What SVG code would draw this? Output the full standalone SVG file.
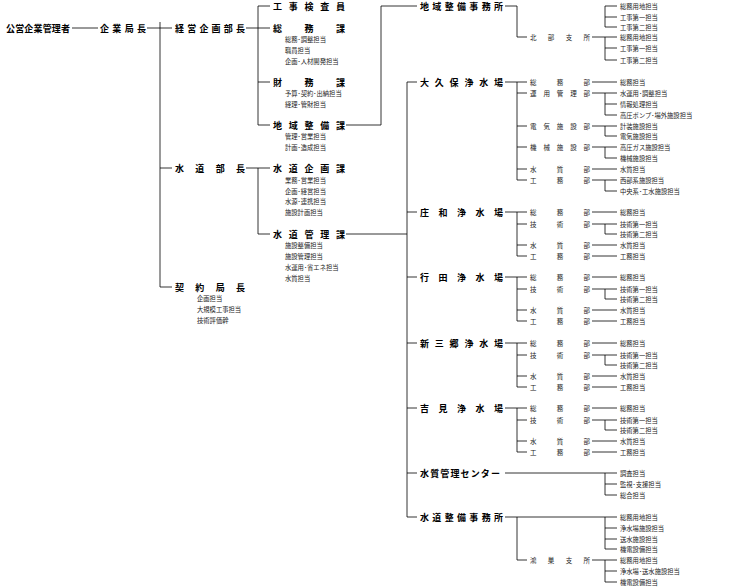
<svg xmlns="http://www.w3.org/2000/svg" width="740" height="588" viewBox="0 0 740 588">
<style>
text{font-family:"Noto Sans CJK JP","Noto Sans",sans-serif;dominant-baseline:central;fill:#000}
.h{font-size:9px;font-weight:bold}
.i{font-size:6.3px;fill:#222}
.d{font-size:6.5px;fill:#222}
line,polyline{stroke:#000;stroke-width:0.8;fill:none}
</style>
<rect width="740" height="588" fill="#fff"/>
<g id="connectors">
<line x1="72" y1="28" x2="98" y2="28"/>
<line x1="147" y1="28" x2="172" y2="28"/>
<line x1="160" y1="22" x2="160" y2="287"/>
<line x1="160" y1="168" x2="172" y2="168"/>
<line x1="160" y1="287" x2="172" y2="287"/>
<line x1="246" y1="28" x2="270" y2="28"/>
<line x1="258" y1="6" x2="258" y2="125"/>
<line x1="258" y1="6" x2="270" y2="6"/>
<line x1="258" y1="82" x2="270" y2="82"/>
<line x1="258" y1="125" x2="270" y2="125"/>
<polyline points="346,125 381,125 381,6 417,6"/>
<line x1="246" y1="168" x2="270" y2="168"/>
<line x1="258" y1="168" x2="258" y2="234"/>
<line x1="258" y1="234" x2="270" y2="234"/>
<line x1="346" y1="234" x2="407" y2="234"/>
<line x1="407" y1="82" x2="407" y2="517"/>
<line x1="407" y1="82" x2="417" y2="82"/>
<line x1="407" y1="212" x2="417" y2="212"/>
<line x1="407" y1="277" x2="417" y2="277"/>
<line x1="407" y1="343" x2="417" y2="343"/>
<line x1="407" y1="408" x2="417" y2="408"/>
<line x1="407" y1="473" x2="417" y2="473"/>
<line x1="407" y1="517" x2="417" y2="517"/>
<!-- 地域整備事務所 -->
<polyline points="505,6 517,6 517,37 527,37"/>
<line x1="605" y1="6" x2="605" y2="27"/>
<line x1="605" y1="6" x2="617" y2="6"/>
<line x1="605" y1="17" x2="617" y2="17"/>
<line x1="605" y1="27" x2="617" y2="27"/>
<line x1="592" y1="37" x2="605" y2="37"/>
<line x1="605" y1="37" x2="605" y2="60"/>
<line x1="605" y1="37" x2="617" y2="37"/>
<line x1="605" y1="48" x2="617" y2="48"/>
<line x1="605" y1="60" x2="617" y2="60"/>
<!-- 大久保 -->
<line x1="505" y1="82" x2="517" y2="82"/>
<line x1="517" y1="82" x2="517" y2="180"/>
<line x1="517" y1="82" x2="527" y2="82"/>
<line x1="517" y1="93" x2="527" y2="93"/>
<line x1="517" y1="126" x2="527" y2="126"/>
<line x1="517" y1="147" x2="527" y2="147"/>
<line x1="517" y1="169" x2="527" y2="169"/>
<line x1="517" y1="180" x2="527" y2="180"/>
<line x1="592" y1="82" x2="617" y2="82"/>
<line x1="592" y1="93" x2="605" y2="93"/>
<line x1="605" y1="93" x2="605" y2="115"/>
<line x1="605" y1="93" x2="617" y2="93"/>
<line x1="605" y1="104" x2="617" y2="104"/>
<line x1="605" y1="115" x2="617" y2="115"/>
<line x1="592" y1="126" x2="605" y2="126"/>
<line x1="605" y1="126" x2="605" y2="136"/>
<line x1="605" y1="126" x2="617" y2="126"/>
<line x1="605" y1="136" x2="617" y2="136"/>
<line x1="592" y1="147" x2="605" y2="147"/>
<line x1="605" y1="147" x2="605" y2="158"/>
<line x1="605" y1="147" x2="617" y2="147"/>
<line x1="605" y1="158" x2="617" y2="158"/>
<line x1="592" y1="169" x2="617" y2="169"/>
<line x1="592" y1="180" x2="605" y2="180"/>
<line x1="605" y1="180" x2="605" y2="191"/>
<line x1="605" y1="180" x2="617" y2="180"/>
<line x1="605" y1="191" x2="617" y2="191"/>
<!-- 水質管理センター -->
<line x1="505" y1="473" x2="605" y2="473"/>
<line x1="605" y1="473" x2="605" y2="495"/>
<line x1="605" y1="473" x2="617" y2="473"/>
<line x1="605" y1="484" x2="617" y2="484"/>
<line x1="605" y1="495" x2="617" y2="495"/>
<!-- 水道整備事務所 -->
<line x1="505" y1="517" x2="605" y2="517"/>
<polyline points="517,517 517,560 527,560"/>
<line x1="605" y1="517" x2="605" y2="549"/>
<line x1="605" y1="517" x2="617" y2="517"/>
<line x1="605" y1="528" x2="617" y2="528"/>
<line x1="605" y1="539" x2="617" y2="539"/>
<line x1="605" y1="549" x2="617" y2="549"/>
<line x1="592" y1="560" x2="605" y2="560"/>
<line x1="605" y1="560" x2="605" y2="582"/>
<line x1="605" y1="560" x2="617" y2="560"/>
<line x1="605" y1="571" x2="617" y2="571"/>
<line x1="605" y1="582" x2="617" y2="582"/>
</g>
<defs>
<g id="plantlines">
<line x1="505" y1="0" x2="517" y2="0"/>
<line x1="517" y1="0" x2="517" y2="44"/>
<line x1="517" y1="0" x2="527" y2="0"/>
<line x1="517" y1="12" x2="527" y2="12"/>
<line x1="517" y1="33" x2="527" y2="33"/>
<line x1="517" y1="44" x2="527" y2="44"/>
<line x1="592" y1="0" x2="617" y2="0"/>
<line x1="592" y1="12" x2="605" y2="12"/>
<line x1="605" y1="12" x2="605" y2="22"/>
<line x1="605" y1="12" x2="617" y2="12"/>
<line x1="605" y1="22" x2="617" y2="22"/>
<line x1="592" y1="33" x2="617" y2="33"/>
<line x1="592" y1="44" x2="617" y2="44"/>
</g>
<g id="planttext">
<text class="d" x="530" y="0" textLength="60">総務部</text>
<text class="d" x="530" y="12" textLength="60">技術部</text>
<text class="d" x="530" y="33" textLength="60">水質部</text>
<text class="d" x="530" y="44" textLength="60">工務部</text>
<text class="i" x="620" y="0">総務担当</text>
<text class="i" x="620" y="12">技術第一担当</text>
<text class="i" x="620" y="22">技術第二担当</text>
<text class="i" x="620" y="33">水質担当</text>
<text class="i" x="620" y="44">工務担当</text>
</g>
</defs>
<g id="top">
<text class="h" x="6" y="28" textLength="64">公営企業管理者</text>
<text class="h" x="100" y="28" textLength="46">企業局長</text>
</g>
<g id="keiei">
<text class="h" x="175" y="28" textLength="70">経営企画部長</text>
<text class="h" x="273" y="6" textLength="72">工事検査員</text>
<text class="h" x="273" y="28" textLength="72">総務課</text>
<text class="i" x="285" y="39">総務･調整担当</text>
<text class="i" x="285" y="50">職員担当</text>
<text class="i" x="285" y="61">企画･人材開発担当</text>
<text class="h" x="273" y="82" textLength="72">財務課</text>
<text class="i" x="285" y="93">予算･契約･出納担当</text>
<text class="i" x="285" y="104">経理･管財担当</text>
<text class="h" x="273" y="125" textLength="72">地域整備課</text>
<text class="i" x="285" y="136">管理･営業担当</text>
<text class="i" x="285" y="147">計画･造成担当</text>
</g>
<g id="suido">
<text class="h" x="175" y="168" textLength="70">水道部長</text>
<text class="h" x="273" y="168" textLength="72">水道企画課</text>
<text class="i" x="285" y="180">業務･営業担当</text>
<text class="i" x="285" y="191">企画･経営担当</text>
<text class="i" x="285" y="201">水源･連携担当</text>
<text class="i" x="285" y="212">施設計画担当</text>
<text class="h" x="273" y="234" textLength="72">水道管理課</text>
<text class="i" x="285" y="245">施設整備担当</text>
<text class="i" x="285" y="256">施設管理担当</text>
<text class="i" x="285" y="267">水運用･省エネ担当</text>
<text class="i" x="285" y="278">水質担当</text>
</g>
<g id="keiyaku">
<text class="h" x="175" y="287" textLength="70">契約局長</text>
<text class="i" x="197" y="298">企画担当</text>
<text class="i" x="197" y="309">大規模工事担当</text>
<text class="i" x="197" y="320">技術評価幹</text>
</g>
<g id="chiiki-jimusho">
<text class="h" x="420" y="6" textLength="83">地域整備事務所</text>
<text class="i" x="620" y="6">総務用地担当</text>
<text class="i" x="620" y="17">工事第一担当</text>
<text class="i" x="620" y="27">工事第二担当</text>
<text class="d" x="530" y="37" textLength="60">北部支所</text>
<text class="i" x="620" y="37">総務用地担当</text>
<text class="i" x="620" y="48">工事第一担当</text>
<text class="i" x="620" y="60">工事第二担当</text>
</g>
<g id="okubo">
<text class="h" x="420" y="82" textLength="83">大久保浄水場</text>
<text class="d" x="530" y="82" textLength="60">総務部</text>
<text class="d" x="530" y="93" textLength="60">運用管理部</text>
<text class="d" x="530" y="126" textLength="60">電気施設部</text>
<text class="d" x="530" y="147" textLength="60">機械施設部</text>
<text class="d" x="530" y="169" textLength="60">水質部</text>
<text class="d" x="530" y="180" textLength="60">工務部</text>
<text class="i" x="620" y="82">総務担当</text>
<text class="i" x="620" y="93">水運用･調整担当</text>
<text class="i" x="620" y="104">情報処理担当</text>
<text class="i" x="620" y="115">高圧ポンプ･場外施設担当</text>
<text class="i" x="620" y="126">計装施設担当</text>
<text class="i" x="620" y="136">電気施設担当</text>
<text class="i" x="620" y="147">高圧ガス施設担当</text>
<text class="i" x="620" y="158">機械施設担当</text>
<text class="i" x="620" y="169">水質担当</text>
<text class="i" x="620" y="180">西部系施設担当</text>
<text class="i" x="620" y="191">中央系･工水施設担当</text>
</g>
<g id="showa" transform="translate(0,212)">
<text class="h" x="420" y="0" textLength="83">庄和浄水場</text>
<use href="#plantlines"/><use href="#planttext"/>
</g>
<g id="gyoda" transform="translate(0,277)">
<text class="h" x="420" y="0" textLength="83">行田浄水場</text>
<use href="#plantlines"/><use href="#planttext"/>
</g>
<g id="shinmisato" transform="translate(0,343)">
<text class="h" x="420" y="0" textLength="83">新三郷浄水場</text>
<use href="#plantlines"/><use href="#planttext"/>
</g>
<g id="yoshimi" transform="translate(0,408)">
<text class="h" x="420" y="0" textLength="83">吉見浄水場</text>
<use href="#plantlines"/><use href="#planttext"/>
</g>
<g id="suishitsu-center">
<text class="h" x="420" y="473" textLength="80">水質管理センター</text>
<text class="i" x="620" y="473">調査担当</text>
<text class="i" x="620" y="484">監視･支援担当</text>
<text class="i" x="620" y="495">総合担当</text>
</g>
<g id="suido-jimusho">
<text class="h" x="420" y="517" textLength="83">水道整備事務所</text>
<text class="i" x="620" y="517">総務用地担当</text>
<text class="i" x="620" y="528">浄水場施設担当</text>
<text class="i" x="620" y="539">送水施設担当</text>
<text class="i" x="620" y="549">機電設備担当</text>
<text class="d" x="530" y="560" textLength="60">鴻巣支所</text>
<text class="i" x="620" y="560">総務用地担当</text>
<text class="i" x="620" y="571">浄水場･送水施設担当</text>
<text class="i" x="620" y="582">機電設備担当</text>
</g>
</svg>
